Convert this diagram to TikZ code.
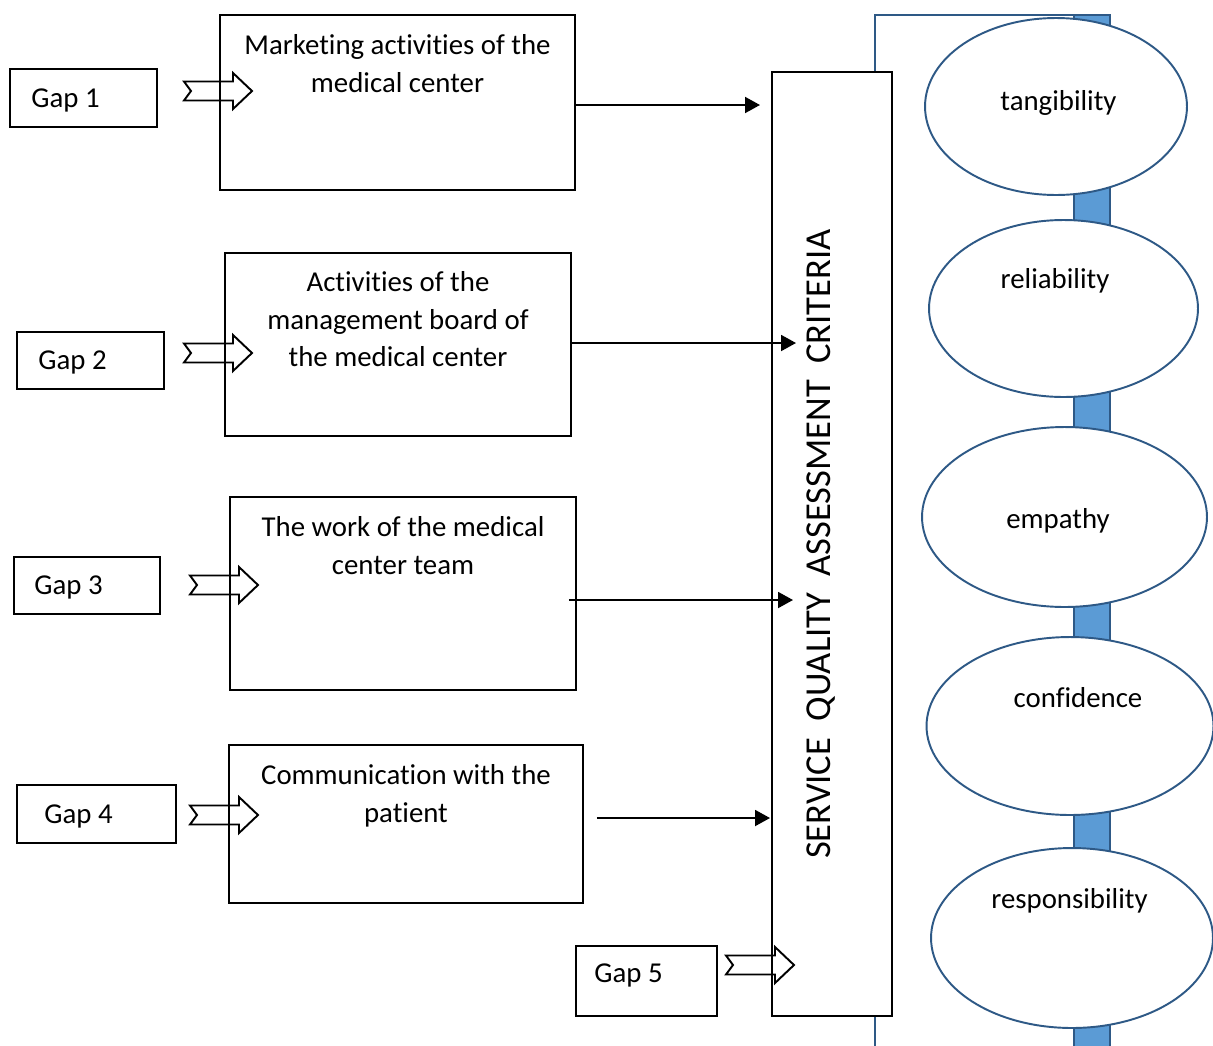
\documentclass[tikz,border=0pt]{standalone}
\usepackage{fontspec}
\setmainfont{Carlito}[Ligatures=NoCommon]
\usetikzlibrary{positioning,fit,shapes.geometric,arrows.meta}
\definecolor{B0}{RGB}{46,89,134}
\definecolor{B1}{RGB}{91,155,213}
\newcommand{\boxfont}{\fontsize{16.4}{21.5}\selectfont}
\newcommand{\titlefont}{\fontsize{20.8}{25}\selectfont}

\begin{document}
\begin{tikzpicture}[x=0.02cm,y=-0.02cm,
  box/.style={draw,line width=1.1pt,inner sep=0pt,fill=white},
  lbl/.style={font=\boxfont,inner sep=0pt},
  gaplbl/.style={lbl,text depth=0pt},
  criterion/.style={ellipse,draw=B0,line width=1.1pt,fill=white,inner sep=0pt},
  flow/.style={line width=1.1pt,-{Triangle[length=0.3cm,width=0.32cm]}},
  gaparrow/.pic={\draw[line width=1.1pt] (0,-9.5) -- (49,-9.5) -- (49,-18) -- (68,0)
    -- (49,18) -- (49,9.5) -- (0,9.5) -- (7,0) -- cycle;}]

  \useasboundingbox (0,0) rectangle (1213,1045);

  % Blue frame behind the criteria.
  \draw[B0,line width=1.5pt] (875,1060) -- (875,15) -- (1110,15);
  \filldraw[fill=B1,draw=B0,line width=1.1pt] (1074,15) rectangle (1110,1060);

  % Criteria ellipses.
  \node[criterion,minimum width=5.24cm,minimum height=3.54cm] (tang) at (1056,106.5) {};
  \node[lbl,anchor=base] (tangtxt) at (1058.5,110) {tangibility};
  \node[criterion,minimum width=5.38cm,minimum height=3.54cm] (reli) at (1063.5,308.5) {};
  \node[lbl,anchor=base] (relitxt) at (1055,288) {reliability};
  \node[criterion,minimum width=5.7cm,minimum height=3.6cm] (empa) at (1064.5,517) {};
  \node[lbl,anchor=base] (empatxt) at (1058,528) {empathy};
  \node[criterion,minimum width=5.74cm,minimum height=3.56cm] (conf) at (1070,726) {};
  \node[lbl,anchor=base] (conftxt) at (1078,707) {confidence};
  \node[criterion,minimum width=5.64cm,minimum height=3.6cm] (resp) at (1072,938) {};
  \node[lbl,anchor=base] (resptxt) at (1069.5,908) {responsibility};

  % Vertical box.
  \node[box,fit={(772,72) (892,1016)}] (crit) {};
  \node[font=\titlefont,inner sep=0pt,rotate=90,anchor=base] (crittxt) at (830,544)
    {SERVICE\hspace{0.45em}QUALITY\hspace{0.45em}ASSESSMENT\hspace{0.45em}CRITERIA};

  % Gaps.
  \node[box,fit={(10,69) (157,127)}] (gap1) {};
  \node[gaplbl,right=0.44cm of gap1.west] (gap1txt) {Gap 1};
  \node[box,fit={(17,332) (164,389)}] (gap2) {};
  \node[gaplbl,right=0.44cm of gap2.west] (gap2txt) {Gap 2};
  \node[box,fit={(14,557) (160,614)}] (gap3) {};
  \node[gaplbl,right=0.42cm of gap3.west] (gap3txt) {Gap 3};
  \node[box,fit={(17,785) (176,843)}] (gap4) {};
  \node[gaplbl,right=0.56cm of gap4.west] (gap4txt) {Gap 4};
  \node[box,fit={(576,946) (717,1016)}] (gap5) {};
  \node[gaplbl,right=0.38cm of gap5.west,yshift=0.16cm] (gap5txt) {Gap 5};

  % Activities.
  \node[box,fit={(220,15) (575,190)}] (act1) {};
  \node[lbl,align=center,below=0.4cm of act1.north] (act1txt)
    {Marketing activities of the\\medical center};
  \node[box,fit={(225,253) (571,436)}] (act2) {};
  \node[lbl,align=center,below=0.38cm of act2.north] (act2txt)
    {Activities of the\\management board of\\the medical center};
  \node[box,fit={(230,497) (576,690)}] (act3) {};
  \node[lbl,align=center,below=0.4cm of act3.north] (act3txt)
    {The work of the medical\\center team};
  \node[box,fit={(229,745) (583,903)}] (act4) {};
  \node[lbl,align=center,below=0.4cm of act4.north] (act4txt)
    {Communication with the\\patient};

  % Arrows into the criteria box.
  \coordinate (in1) at (760,105);
  \coordinate (in2) at (796,343);
  \coordinate (in3) at (793,600);
  \coordinate (in4) at (770,818);
  \draw[flow] (act1.east |- in1) -- (in1);
  \draw[flow] (act2.east |- in2) -- (in2);
  \draw[flow,shorten <=-0.16cm] (act3.east |- in3) -- (in3);
  \draw[flow,shorten <=0.26cm] (act4.east |- in4) -- (in4);

  % Hollow gap arrows.
  \pic at (184,91) {gaparrow};
  \pic at (184,353) {gaparrow};
  \pic at (190,585) {gaparrow};
  \pic at (190,815) {gaparrow};
  \pic at (726,965) {gaparrow};

\end{tikzpicture}
\end{document}
